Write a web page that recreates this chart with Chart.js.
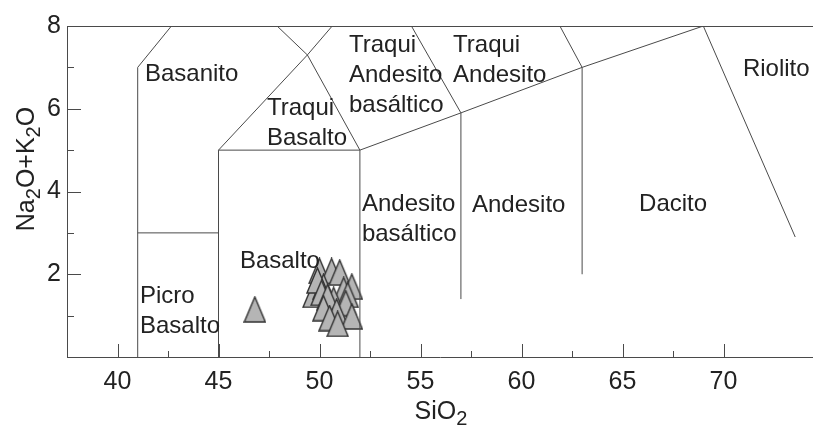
<!DOCTYPE html>
<html>
<head>
<meta charset="utf-8">
<script src="https://cdn.jsdelivr.net/npm/chart.js@4.4.1/dist/chart.umd.min.js"></script>
<style>
  body { margin: 0; background: #fff; }
  #wrap { width: 813px; height: 430px; }
</style>
</head>
<body>
<div id="wrap"><canvas id="tasChart" width="813" height="430"></canvas></div>
<script>
// sample points (SiO2, Na2O+K2O)
var sampleSiO2 = [46.8, 50.0, 50.6, 51.0, 49.7, 50.2, 51.6, 51.2, 49.9, 50.1, 50.7, 50.4, 51.4, 51.3, 50.2, 50.85, 51.6, 50.5, 50.9];
var sampleAlk  = [1.15, 2.08, 2.08, 2.04, 1.5, 1.7, 1.7, 1.62, 1.85, 1.55, 1.38, 1.45, 1.5, 1.3, 1.18, 1.1, 0.98, 0.94, 0.8];

// field boundaries (polylines)
var boundaryA = [[41, 0], [41, 7], [42.67, 8]];
var boundaryB = [[41, 3], [45, 3]];
var boundaryC = [[45, 0], [45, 5], [49.4, 7.3], [50.63, 8]];
var boundaryD = [[45, 5], [52, 5]];
var boundaryE = [[52, 0], [52, 5], [49.4, 7.3], [47.9, 8]];
var boundaryF = [[52, 5], [57, 5.9], [63, 7], [69, 8]];
var boundaryG = [[57, 1.4], [57, 5.9], [54.55, 8]];
var boundaryH = [[63, 2.0], [63, 7], [61.9, 8]];
var boundaryI = [[69, 8], [73.55, 2.9]];
var boundaries = [boundaryA, boundaryB, boundaryC, boundaryD, boundaryE, boundaryF, boundaryG, boundaryH, boundaryI];

// field names
var fieldNames = [
    ['Basanito'],
    ['Traqui', 'Basalto'],
    ['Traqui', 'Andesito', 'basáltico'],
    ['Traqui', 'Andesito'],
    ['Andesito', 'basáltico'],
    ['Andesito'],
    ['Dacito'],
    ['Riolito'],
    ['Basalto'],
    ['Picro', 'Basalto']
];
var fieldSiO2 = [41.36, 47.4, 51.46, 56.61, 52.1, 57.55, 65.82, 70.96, 46.06, 41.11];
var fieldAlk  = [6.66, 5.86, 7.36, 7.36, 3.535, 3.51, 3.535, 6.78, 2.15, 1.31];

var xTickStep = 2.5;
var yTickStep = 1;

var FONT = "'Liberation Sans', Arial, sans-serif";
var LINE = '#4a4a4a';

// triangle marker
var tri = document.createElement('canvas');
tri.width = 23;
tri.height = 27;
var tctx = tri.getContext('2d');
tctx.beginPath();
tctx.moveTo(11.5, 1);
tctx.lineTo(22, 26);
tctx.lineTo(1, 26);
tctx.closePath();
tctx.fillStyle = '#b5b5b5';
tctx.fill();
tctx.lineWidth = 1.4;
tctx.strokeStyle = '#333';
tctx.stroke();

var datasets = [];
boundaries.forEach(function (b) {
    datasets.push({
        data: b.map(function (p) { return { x: p[0], y: p[1] }; }),
        showLine: true,
        borderColor: LINE,
        borderWidth: 1,
        pointRadius: 0,
        fill: false
    });
});
datasets.push({
    data: sampleSiO2.map(function (v, i) { return { x: v, y: sampleAlk[i] }; }),
    pointStyle: tri,
    pointRadius: 12,
    showLine: false
});

// frame, inner ticks, field names, axis titles
var tasDecor = {
    id: 'tasDecor',
    afterDraw: function (chart) {
        var ctx = chart.ctx;
        var a = chart.chartArea;
        var xs = chart.scales.x, ys = chart.scales.y;
        ctx.save();
        ctx.strokeStyle = LINE;
        ctx.lineWidth = 1;
        ctx.beginPath();
        ctx.moveTo(a.left, a.top + 0.5);
        ctx.lineTo(a.right, a.top + 0.5);
        // x ticks pointing in
        xs.ticks.forEach(function (t) {
            if (t.value <= xs.min || t.value >= xs.max) return;
            var px = Math.round(xs.getPixelForValue(t.value)) + 0.5;
            var len = (t.value % 5 === 0) ? 13 : 6;
            ctx.moveTo(px, a.bottom);
            ctx.lineTo(px, a.bottom - len);
        });
        // y ticks pointing in
        ys.ticks.forEach(function (t) {
            if (t.value <= ys.min || t.value >= ys.max) return;
            var py = Math.round(ys.getPixelForValue(t.value)) + 0.5;
            var len = (t.value % 2 === 0) ? 14 : 7;
            ctx.moveTo(a.left, py);
            ctx.lineTo(a.left + len, py);
        });
        ctx.stroke();

        // field names
        ctx.fillStyle = '#222';
        ctx.font = '24px ' + FONT;
        ctx.textAlign = 'left';
        ctx.textBaseline = 'alphabetic';
        fieldNames.forEach(function (lines, i) {
            var px = xs.getPixelForValue(fieldSiO2[i]);
            var py = ys.getPixelForValue(fieldAlk[i]);
            lines.forEach(function (s, j) {
                ctx.fillText(s, px, py + j * 30);
            });
        });

        // axis titles with subscripts
        function subText(parts, x, y) {
            var w = 0;
            parts.forEach(function (p) {
                ctx.font = (p[1] ? 20 : 25) + 'px ' + FONT;
                w += ctx.measureText(p[0]).width;
            });
            var cx = x - w / 2;
            parts.forEach(function (p) {
                ctx.font = (p[1] ? 20 : 25) + 'px ' + FONT;
                ctx.fillText(p[0], cx, y + (p[1] ? 6 : 0));
                cx += ctx.measureText(p[0]).width;
            });
        }
        ctx.fillStyle = '#222';
        subText([['SiO', 0], ['2', 1]], 441, 419);
        ctx.translate(34, 169);
        ctx.rotate(-Math.PI / 2);
        subText([['Na', 0], ['2', 1], ['O+K', 0], ['2', 1], ['O', 0]], 0, 0);
        ctx.restore();
    }
};

var tasChart = new Chart(document.getElementById('tasChart'), {
    type: 'scatter',
    data: { datasets: datasets },
    options: {
        responsive: false,
        animation: false,
        layout: { autoPadding: false, padding: { top: 26, right: 0, left: 0, bottom: 0 } },
        plugins: { legend: { display: false }, tooltip: { enabled: false } },
        scales: {
            x: {
                type: 'linear',
                min: 37.5,
                max: 74.43,
                grid: { display: false, drawTicks: false },
                border: { display: true, color: LINE, width: 1 },
                ticks: {
                    stepSize: xTickStep,
                    autoSkip: false,
                    maxRotation: 0,
                    padding: 10,
                    color: '#222',
                    font: { family: FONT, size: 25 },
                    callback: function (v) { return v % 5 === 0 ? String(v) : ''; }
                },
                afterFit: function (s) {
                    s.height = 73;
                    s.paddingLeft = 0;
                    s.paddingRight = 0;
                }
            },
            y: {
                type: 'linear',
                min: 0,
                max: 8,
                grid: { display: false, drawTicks: false },
                border: { display: true, color: LINE, width: 1 },
                ticks: {
                    stepSize: yTickStep,
                    autoSkip: false,
                    padding: 6,
                    color: '#222',
                    font: { family: FONT, size: 25 },
                    callback: function (v) { return (v % 2 === 0 && v > 0) ? String(v) : ''; }
                },
                afterFit: function (s) {
                    s.width = 67;
                    s.paddingTop = 0;
                    s.paddingBottom = 0;
                }
            }
        }
    },
    plugins: [tasDecor]
});
</script>
</body>
</html>
